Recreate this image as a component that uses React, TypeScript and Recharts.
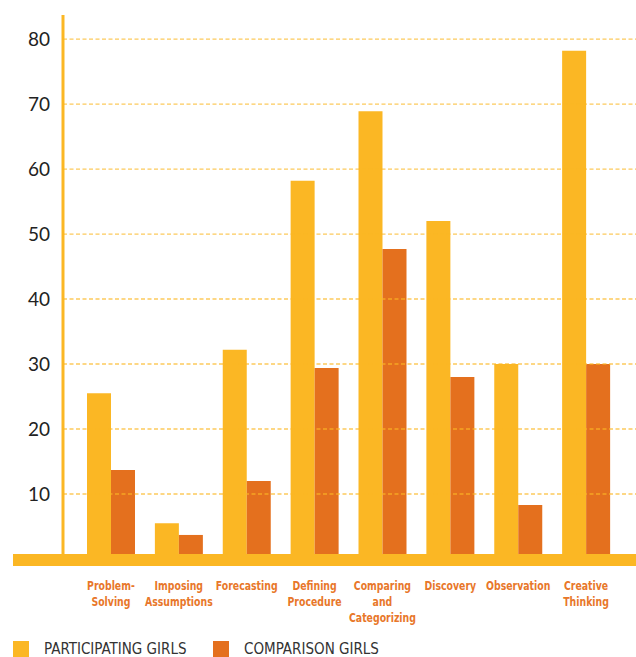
import { Bar, BarChart, ReferenceLine, XAxis, YAxis } from "recharts"

const categories = [
  "Problem-\nSolving",
  "Imposing\nAssumptions",
  "Forecasting",
  "Defining\nProcedure",
  "Comparing\nand\nCategorizing",
  "Discovery",
  "Observation",
  "Creative\nThinking",
]

const participating = [25.5, 5.5, 32.2, 58.2, 68.9, 52.0, 30.0, 78.2]
const comparison = [13.7, 3.7, 12.0, 29.4, 47.7, 28.0, 8.3, 30.0]

const seriesNames = ["PARTICIPATING GIRLS", "COMPARISON GIRLS"]
const yTicks = [10, 20, 30, 40, 50, 60, 70, 80]

const YELLOW = "#FBB724"
const ORANGE = "#E4701E"

const data = categories.map((name, i) => ({
  name,
  participating: participating[i],
  comparison: comparison[i],
}))

function CategoryTick(props: any) {
  const { x, y, payload } = props
  const lines = String(payload.value).split("\n")
  // condensed look: squeeze horizontally around the tick centre
  return (
    <g transform={`translate(${x},${y}) scale(0.8,1)`}>
      <text
        x={0}
        y={0}
        textAnchor="middle"
        fill="#E8772A"
        fontSize={13}
        fontWeight={700}
        fontFamily="'DejaVu Sans Condensed', Roboto, sans-serif"
      >
        {lines.map((line, i) => (
          <tspan key={i} x={0} y={31 + i * 16}>
            {line}
          </tspan>
        ))}
      </text>
    </g>
  )
}

export default function App() {
  const legendFont = "'DejaVu Sans Condensed', Roboto, sans-serif"
  return (
    <div style={{ position: "absolute", left: 0, top: 0, width: 636, height: 657, background: "#fff", overflow: "hidden" }}>
      <BarChart
        width={636}
        height={657}
        data={data}
        margin={{ top: 15, right: 0, bottom: 0, left: 0 }}
        barGap={0}
        barSize={24}
      >
        <XAxis
          dataKey="name"
          height={98}
          interval={0}
          tickLine={false}
          axisLine={false}
          tickSize={0}
          tickMargin={0}
          padding={{ left: 14, right: 16 }}
          tick={<CategoryTick />}
        />
        <YAxis
          width={63}
          domain={[0, 83.7]}
          ticks={yTicks}
          allowDataOverflow
          tickLine={false}
          tickSize={0}
          tickMargin={13}
          axisLine={{ stroke: YELLOW, strokeWidth: 3 }}
          tick={{ fill: "#222", fontSize: 19, fontFamily: "Lato, 'Open Sans', sans-serif" }}
        />
        <Bar dataKey="participating" name={seriesNames[0]} fill={YELLOW} isAnimationActive={false} />
        <Bar dataKey="comparison" name={seriesNames[1]} fill={ORANGE} isAnimationActive={false} />
        {yTicks.map((t) => (
          <ReferenceLine
            key={t}
            y={t}
            stroke={YELLOW}
            strokeOpacity={0.75}
            strokeWidth={1.3}
            strokeDasharray="4 2.5"
          />
        ))}
      </BarChart>

      {/* thick base band */}
      <div style={{ position: "absolute", left: 13, top: 554, width: 623, height: 12, background: YELLOW }} />

      {/* legend */}
      {seriesNames.map((name, i) => (
        <div
          key={name}
          style={{
            position: "absolute",
            left: i === 0 ? 13 : 213,
            top: 641,
            display: "flex",
            alignItems: "flex-start",
          }}
        >
          <div style={{ width: 16, height: 16, background: i === 0 ? YELLOW : ORANGE }} />
          <div
            style={{
              marginLeft: 15,
              fontFamily: legendFont,
              fontSize: 15,
              lineHeight: "17px",
              color: "#333",
              whiteSpace: "nowrap",
            }}
          >
            {name}
          </div>
        </div>
      ))}
    </div>
  )
}
